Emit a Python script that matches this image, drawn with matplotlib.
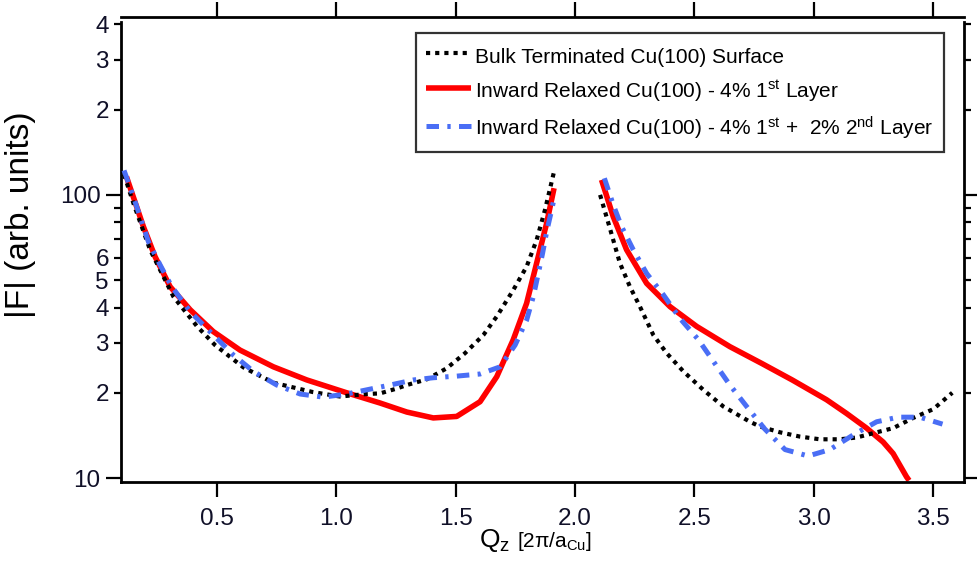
import numpy as np
import matplotlib
matplotlib.use("Agg")
import matplotlib.pyplot as plt
from matplotlib import font_manager as fm
from matplotlib.ticker import FixedLocator, FixedFormatter, NullLocator

# ---------------- data ----------------
bulk_left_x = [0.110, 0.150, 0.219, 0.317, 0.415, 0.491, 0.610, 0.736, 0.903, 1.015, 1.127, 1.183,
               1.253, 1.295, 1.378, 1.462, 1.539, 1.616, 1.672, 1.741, 1.797, 1.839, 1.874, 1.912]
bulk_left_y = [118, 93, 64, 43.7, 34.4, 29.5, 24.6, 21.7, 20.1, 19.4, 19.8, 19.9,
               20.7, 21.3, 22.3, 24.4, 27.6, 32.0, 37.2, 46.1, 55.8, 69.3, 88.5, 120.8]
bulk_right_x = [2.105, 2.146, 2.188, 2.230, 2.272, 2.328, 2.384, 2.454, 2.537, 2.621, 2.733, 2.775,
                2.859, 2.943, 3.026, 3.110, 3.180, 3.250, 3.333, 3.417, 3.501, 3.581]
bulk_right_y = [100, 76.2, 57.4, 47.4, 40.3, 32.0, 27.6, 23.8, 20.5, 17.9, 15.8, 15.2,
                14.5, 14.0, 13.7, 13.7, 13.9, 14.4, 15.0, 16.3, 17.5, 20.0]

red_left_x = [0.120, 0.191, 0.240, 0.303, 0.387, 0.484, 0.596, 0.736, 0.876, 1.043, 1.183, 1.295,
              1.406, 1.504, 1.602, 1.672, 1.741, 1.797, 1.839, 1.881, 1.912]
red_left_y = [116, 77.3, 60.5, 47.4, 39.3, 32.9, 28.3, 24.7, 22.2, 20.0, 18.4, 17.1,
              16.3, 16.5, 18.6, 22.8, 30.8, 41.4, 57.4, 79.4, 105.6]
red_right_x = [2.111, 2.160, 2.216, 2.300, 2.398, 2.510, 2.649, 2.782, 2.910, 3.054, 3.138, 3.222,
               3.291, 3.333, 3.389, 3.400]
red_right_y = [113, 83.8, 64.0, 48.7, 40.3, 34.3, 29.1, 25.4, 22.2, 18.9, 16.9, 15.0,
               13.4, 12.2, 10.1, 9.8]

blue_left_x = [0.110, 0.149, 0.177, 0.212, 0.261, 0.310, 0.387, 0.470, 0.568, 0.652, 0.750, 0.848,
               0.945, 1.043, 1.141, 1.225, 1.323, 1.406, 1.504, 1.602, 1.686, 1.749, 1.797, 1.825,
               1.846, 1.864, 1.881, 1.902, 1.912]
blue_left_y = [122, 98.6, 83.8, 68.4, 56.6, 47.4, 38.7, 32.9, 27.2, 23.8, 21.3, 19.8,
               19.3, 19.8, 20.6, 21.3, 22.2, 22.6, 22.9, 23.3, 24.7, 29.5, 36.1, 43.7,
               52.8, 62.2, 74.1, 88.5, 97]
blue_right_x = [2.123, 2.160, 2.195, 2.244, 2.300, 2.370, 2.440, 2.517, 2.580, 2.649, 2.719, 2.795,
                2.880, 2.977, 3.068, 3.166, 3.264, 3.354, 3.445, 3.540]
blue_right_y = [114.5, 92.3, 77.3, 64.0, 52.8, 44.4, 36.6, 30.8, 25.8, 21.3, 17.9, 14.9,
                12.6, 11.96, 12.6, 14.2, 15.8, 16.4, 16.4, 15.5]

labels = ["Bulk Terminated Cu(100) Surface",
          r"Inward Relaxed Cu(100) - 4% 1$^{\rm st}$ Layer",
          r"Inward Relaxed Cu(100) - 4% 1$^{\rm st}$ +  2% 2$^{\rm nd}$ Layer"]

x_ticks = [0.5, 1.0, 1.5, 2.0, 2.5, 3.0, 3.5]
x_ticklabels = ["0.5", "1.0", "1.5", "2.0", "2.5", "3.0", "3.5"]
y_major = [10, 100]
y_major_labels = ["10", "100"]
y_minor = [20, 30, 40, 50, 60, 70, 80, 90, 200, 300, 400]
y_minor_labels = ["2", "3", "4", "5", "6", "", "", "", "2", "3", "4"]

# ---------------- style ----------------
names = {f.name for f in fm.fontManager.ttflist}
base = "Liberation Sans" if "Liberation Sans" in names else "DejaVu Sans"
narrow = "Liberation Sans Narrow" if "Liberation Sans Narrow" in names else base
plt.rcParams["font.family"] = [base, "DejaVu Sans"]
plt.rcParams["mathtext.fontset"] = "custom"
plt.rcParams["mathtext.rm"] = base
plt.rcParams["mathtext.it"] = base + ":italic"
plt.rcParams["mathtext.bf"] = base + ":bold"
plt.rcParams["lines.scale_dashes"] = False

W, H = 977, 570
fig = plt.figure(figsize=(W / 100, H / 100), dpi=100)
L, R, T, B = 120.7, 964, 22, 482
ax = fig.add_axes([L / W, 1 - B / H, (R - L) / W, (B - T) / H])

red = "#ff0000"
blue = "#4a6ef5"

ln_bulk, = ax.plot(bulk_left_x, bulk_left_y, color="black", lw=3.0,
                   dashes=(3.0, 3.6), dash_capstyle="butt", zorder=3)
ax.plot(bulk_right_x, bulk_right_y, color="black", lw=3.0,
        dashes=(3.0, 3.6), dash_capstyle="butt", zorder=3)
ln_red, = ax.plot(red_left_x, red_left_y, color=red, lw=4.0, solid_capstyle="butt", zorder=2)
ax.plot(red_right_x, red_right_y, color=red, lw=4.0, solid_capstyle="butt", zorder=2)
ln_blue, = ax.plot(blue_left_x, blue_left_y, color=blue, lw=3.6,
                   dashes=(9, 6, 2.4, 6), dash_capstyle="butt", zorder=4)
ax.plot(blue_right_x, blue_right_y, color=blue, lw=3.6,
        dashes=(9, 6, 2.4, 6), dash_capstyle="butt", zorder=4)

ax.set_yscale("log")
ax.set_xlim(0.096, 3.63)
ax.set_ylim(9.68, 408)

ax.xaxis.set_major_locator(FixedLocator(x_ticks))
ax.xaxis.set_major_formatter(FixedFormatter(x_ticklabels))
ax.xaxis.set_minor_locator(NullLocator())
ax.yaxis.set_major_locator(FixedLocator(y_major))
ax.yaxis.set_major_formatter(FixedFormatter(y_major_labels))
ax.yaxis.set_minor_locator(FixedLocator(y_minor))
ax.yaxis.set_minor_formatter(FixedFormatter(y_minor_labels))

for s in ax.spines.values():
    s.set_linewidth(2.0)
ax.spines["top"].set_position(("outward", 3.6))

ax.tick_params(axis="both", which="both", direction="out", width=1.6, colors="black",
               labelcolor="#101028", labelsize=17.5)
ax.tick_params(axis="x", which="major", length=11, pad=8, top=True, labeltop=False)
ax.tick_params(axis="y", which="major", length=11, pad=3.5, right=True, labelright=False)
ax.tick_params(axis="y", which="minor", length=5, pad=3.5, right=True, labelright=False)

leg = ax.legend([ln_bulk, ln_red, ln_blue], labels, loc="upper right",
                bbox_to_anchor=((944 - L) / (R - L), (B - 33) / (B - T)),
                borderaxespad=0, fontsize=15, frameon=True, fancybox=False,
                edgecolor="black", handlelength=2.15, handletextpad=0.2,
                handleheight=1.45, borderpad=0.5, labelspacing=0.5)
leg.get_frame().set_linewidth(1.6)

ax.set_ylabel("|F| (arb. units)", fontsize=24)
ax.yaxis.set_label_coords((36 - L) / (R - L), (B - 215) / (B - T))

fig.text(479 / W, 1 - 547 / H, r"Q$_{\rm z}$", fontsize=19, ha="left", va="baseline")
fig.text(517 / W, 1 - 547 / H, r"[2π/a$_{\rm Cu}$]", fontsize=15, ha="left", va="baseline",
         family=[narrow, "DejaVu Sans"])

fig.savefig("out.png", dpi=100)
